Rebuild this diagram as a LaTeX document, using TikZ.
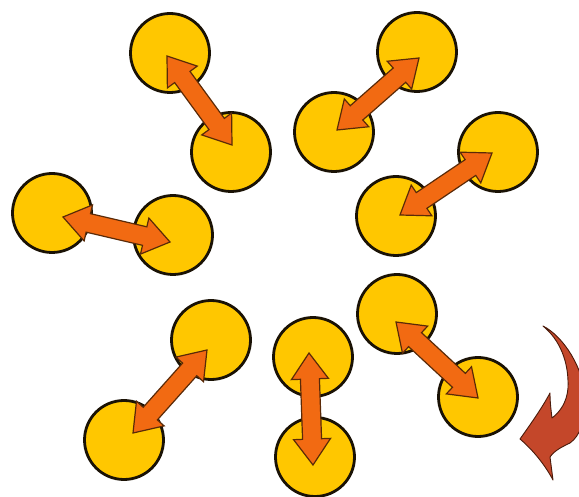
\documentclass[tikz,border=0pt]{standalone}
\usetikzlibrary{calc}
\definecolor{ball}{HTML}{FFC700}
\definecolor{ballline}{HTML}{1A1205}
\definecolor{arrfill}{HTML}{F26A12}
\definecolor{arrline}{HTML}{5A2A08}
\definecolor{rust}{HTML}{C4472A}
\definecolor{rustline}{HTML}{4A1A0A}
\tikzset{
  ballnode/.style={circle,draw=ballline,fill=ball,line width=2.8pt,minimum size=79pt,inner sep=0pt},
  arrbody/.style={draw=arrline,fill=arrfill,line width=1.2pt,line join=miter},
  curvebody/.style={draw=rustline,fill=rust,line width=0.9pt,line join=round}
}
\newcommand\twoway[2]{%
  \coordinate (hA) at ($(#1)!26pt!(#2)$);
  \coordinate (hB) at ($(#2)!26pt!(#1)$);
  \draw[arrbody] (#1) -- ($(hA)!18.5pt!90:(#2)$) -- ($(hA)!9.5pt!90:(#2)$)
    -- ($(hB)!9.5pt!-90:(#1)$) -- ($(hB)!18.5pt!-90:(#1)$) -- (#2)
    -- ($(hB)!18.5pt!90:(#1)$) -- ($(hB)!9.5pt!90:(#1)$)
    -- ($(hA)!9.5pt!-90:(#2)$) -- ($(hA)!18.5pt!-90:(#2)$) -- cycle;}
\begin{document}
\begin{tikzpicture}[x=1pt,y=-1pt]
\useasboundingbox[fill=white] (0,0) rectangle (579,497);
\clip (0,0) rectangle (579,497);
% balls
\node[ballnode] (b1a) at (170,53) {};
\node[ballnode] (b1b) at (231,152) {};
\node[ballnode] (b2a) at (417,52) {};
\node[ballnode] (b2b) at (334,132) {};
\node[ballnode] (b3a) at (498,152) {};
\node[ballnode] (b3b) at (396,216) {};
\node[ballnode] (b4a) at (52,213) {};
\node[ballnode] (b4b) at (173,235) {};
\node[ballnode] (b5a) at (211,340) {};
\node[ballnode] (b5b) at (124,440) {};
\node[ballnode] (b6a) at (313,357) {};
\node[ballnode] (b6b) at (315,457) {};
\node[ballnode] (b7a) at (397,314) {};
\node[ballnode] (b7b) at (478,397) {};
% arrow ends
\coordinate (e1a) at (167,56);  \coordinate (e1b) at (232,145);
\coordinate (e2a) at (419,58);  \coordinate (e2b) at (337,130);
\coordinate (e3a) at (492,153); \coordinate (e3b) at (400,215);
\coordinate (e4a) at (63,217);  \coordinate (e4b) at (170,242);
\coordinate (e5a) at (207,350); \coordinate (e5b) at (133,433);
\coordinate (e6a) at (309,353); \coordinate (e6b) at (313,465);
\coordinate (e7a) at (396,322); \coordinate (e7b) at (478,398);
\twoway{e1a}{e1b}
\twoway{e2a}{e2b}
\twoway{e3a}{e3b}
\twoway{e4a}{e4b}
\twoway{e5a}{e5b}
\twoway{e6a}{e6b}
\twoway{e7a}{e7b}
% curved arrow
\coordinate (tail) at (543,326);
\coordinate (tip) at (520,439);
\draw[curvebody] (tail) .. controls (563,336) and (584,368) .. (585,398)
  .. controls (586,420) and (580,436) .. (570,443)
  .. controls (562,447) and (555,450) .. (550,457)
  -- (553,480)
  .. controls (545,465) and (533,450) .. (tip)
  .. controls (530,425) and (542,408) .. (550,393)
  .. controls (550,402) and (551,410) .. (552,418)
  .. controls (560,412) and (567,402) .. (568,388)
  .. controls (569,362) and (560,340) .. (tail) -- cycle;
\end{tikzpicture}
\end{document}
